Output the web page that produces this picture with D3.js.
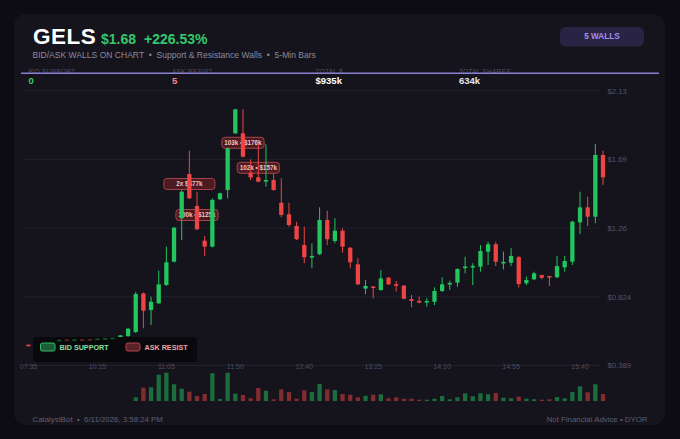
<!DOCTYPE html>
<html><head><meta charset="utf-8">
<script src="https://cdn.jsdelivr.net/npm/d3@7/dist/d3.min.js"></script>
<style>
html,body{margin:0;padding:0;background:#0d0c13;}
svg{display:block;font-family:"Liberation Sans",Arial,Helvetica,sans-serif;}
</style>
</head><body>
<svg id="chart" width="680" height="439"></svg>
<script>
// ---------- DATA ----------
const ticker = "GELS";
const lastPrice = "$1.68";
const changePct = "+226.53%";
const subtitle = "BID/ASK WALLS ON CHART  \u2022  Support & Resistance Walls  \u2022  5-Min Bars";
const statLabels = ["BID SUPPORT", "ASK RESIST", "TOTAL $", "TOTAL SHARES"];
const statValues = ["0", "5", "$935k", "634k"];
const wallsBadge = "5 WALLS";
const footerLeft = "CatalystBot  \u2022  6/11/2026, 3:58:24 PM";
const footerRight = "Not Financial Advice \u2022 DYOR";

const barIndex = d3.range(76);
const opens = [0.519,null,null,null,0.545,0.551,0.547,0.552,0.553,0.553,
  0.555,0.558,0.570,0.576,0.601,0.846,0.741,0.783,0.899,1.047,
  1.322,1.602,1.400,1.180,1.142,1.442,1.501,1.860,1.860,1.611,
  1.581,1.554,1.564,1.420,1.347,1.273,1.152,1.075,1.094,1.311,
  1.178,1.243,1.135,1.030,0.876,0.888,0.867,0.945,0.902,0.895,
  0.810,0.796,0.790,0.793,0.861,0.904,0.914,1.008,1.012,1.015,
  1.110,1.157,1.037,1.040,1.075,0.910,0.935,0.962,0.954,0.948,
  1.011,1.047,1.296,1.391,1.332,1.723];
const highs = [0.519,null,null,null,0.550,0.552,0.552,0.553,0.554,0.558,
  0.560,0.563,0.582,0.627,0.855,0.851,0.825,0.990,1.142,1.268,
  1.501,1.750,1.490,1.209,1.448,1.484,1.769,2.015,2.012,1.695,
  1.797,1.790,1.602,1.575,1.420,1.300,1.268,1.163,1.391,1.370,
  1.322,1.258,1.140,1.068,0.931,0.893,0.994,0.950,0.924,0.899,
  0.836,0.825,0.815,0.884,0.948,0.926,1.005,1.078,1.037,1.152,
  1.173,1.173,1.110,1.132,1.083,0.952,0.983,0.964,0.958,1.083,
  1.083,1.306,1.490,1.458,1.792,1.750];
const lows = [0.512,null,null,null,0.544,0.546,0.546,0.547,0.548,0.552,
  0.554,0.557,0.569,0.570,0.595,0.625,0.646,0.779,0.893,1.043,
  1.184,1.444,1.247,1.083,1.137,1.438,1.448,1.856,1.708,1.564,
  1.550,1.522,1.496,1.328,1.268,1.184,1.037,1.005,1.089,1.152,
  1.163,1.104,1.005,0.899,0.840,0.815,0.863,0.899,0.857,0.810,
  0.758,0.783,0.762,0.772,0.855,0.867,0.888,0.973,0.899,0.983,
  1.026,1.019,0.998,1.019,0.884,0.899,0.931,0.935,0.893,0.943,
  0.983,1.026,1.222,1.273,1.290,1.533];
const closes = [0.513,null,null,null,0.549,0.547,0.551,0.548,0.549,0.557,
  0.559,0.562,0.580,0.622,0.842,0.736,0.793,0.903,1.043,1.262,
  1.490,1.448,1.252,1.142,1.438,1.480,1.765,2.012,1.712,1.581,
  1.554,1.564,1.501,1.343,1.279,1.189,1.075,1.081,1.311,1.189,
  1.243,1.142,1.043,0.903,0.893,0.881,0.941,0.903,0.896,0.812,
  0.798,0.790,0.796,0.861,0.903,0.910,1.000,1.014,1.018,1.114,
  1.157,1.047,1.044,1.083,0.905,0.931,0.973,0.945,0.948,1.019,
  1.051,1.300,1.391,1.332,1.723,1.581];
// volume, thousands of shares
const volumes = [0,null,null,null,0,0,0,0,0,0,
  0,0,0,0,37,133,137,263,283,167,
  123,93,50,70,277,20,283,73,60,27,
  130,103,17,117,90,23,107,90,170,117,
  110,70,63,37,52,63,67,27,37,23,
  23,13,13,23,50,17,37,77,47,77,
  67,80,33,27,43,23,17,13,17,40,
  27,90,147,87,167,70];

const timeTickLabels = ["07:35","10:15","11:05","11:50","12:40","13:25","14:10","14:55","15:40"];
const timeTickBars = [0,9,18,27,36,45,54,63,72];
const priceDomain = [0.389, 2.13];
const priceTickLabels = ["$0.389","$0.824","$1.26","$1.69","$2.13"];

const wallLabels = ["2x $477k","100k \u2022 $125k","103k \u2022 $176k","102k \u2022 $157k"];
const wallBars = [21, 22, 28, 30];
const wallPrices = [1.539, 1.3425, 1.800, 1.6415];
const wallCounts = [2, 1, 1, 1];

// ---------- STYLE ----------
const UP = "#22c55e", DOWN = "#ef4444";
const svg = d3.select("#chart");

svg.append("rect").attr("x",0).attr("y",0).attr("width",680).attr("height",439).attr("fill","#0d0c13");
svg.append("rect").attr("x",14).attr("y",14).attr("width",651).attr("height",411).attr("rx",12)
  .attr("fill","#15141d");

// header
svg.append("text").attr("x",33).attr("y",43.5).text(ticker)
  .attr("fill","#ffffff").attr("font-size",22.5).attr("font-weight",800).attr("letter-spacing",0.5);
svg.append("text").attr("x",101).attr("y",43.5).text(lastPrice)
  .attr("fill","#34c76b").attr("font-size",14).attr("font-weight",700);
svg.append("text").attr("x",144).attr("y",43.5).text(changePct)
  .attr("fill","#34c76b").attr("font-size",14).attr("font-weight",700);
svg.append("text").attr("x",32.5).attr("y",57.8).text(subtitle)
  .style("white-space","pre")
  .attr("fill","#8a899a").attr("font-size",8.55);

// badge
svg.append("rect").attr("x",560).attr("y",27).attr("width",84).attr("height",19.5).attr("rx",6)
  .attr("fill","#2a2444");
svg.append("text").attr("x",602).attr("y",36.8).text(wallsBadge).attr("text-anchor","middle")
  .attr("dominant-baseline","central").attr("fill","#a18ef2").attr("font-size",8.2).attr("font-weight",700);

// stats
const statX = [28.5, 172, 315.5, 459];
const statColors = ["#3cc96e","#f08a8a","#ffffff","#e6e6ee"];
statLabels.forEach((l,i)=>{
  svg.append("text").attr("x",statX[i]).attr("y",73.5).text(l)
    .attr("fill","#4d4c5c").attr("font-size",6.6).attr("letter-spacing",0.2);
  svg.append("text").attr("x",statX[i]).attr("y",83.5).text(statValues[i])
    .attr("fill",statColors[i]).attr("font-size",9.5).attr("font-weight",700);
});
svg.append("line").attr("x1",21).attr("x2",659).attr("y1",73.3).attr("y2",73.3)
  .attr("stroke","#8b80d6").attr("stroke-width",1.5);

// scales
const x = d3.scaleBand().domain(barIndex).range([24.67, 606.83]).paddingInner(0.44).paddingOuter(0.22);
const y = d3.scaleLinear().domain(priceDomain).range([365.5, 90.7]);
const yv = d3.scaleLinear().domain([0, d3.max(volumes)]).range([401, 372.7]);
const cx = i => x(i) + x.bandwidth()/2;
const priceTickValues = priceTickLabels.map((_,i)=> priceDomain[0] + i*(priceDomain[1]-priceDomain[0])/(priceTickLabels.length-1));

// grid
svg.append("g").selectAll("line").data(priceTickValues).join("line")
  .attr("x1",23).attr("x2",600).attr("y1",d=>y(d)).attr("y2",d=>y(d))
  .attr("stroke","#22212c").attr("stroke-width",1);

// price axis
const pa = svg.append("g").attr("transform","translate(604,0)")
  .call(d3.axisRight(y).tickValues(priceTickValues).tickFormat((d,i)=>priceTickLabels[i]).tickSize(0).tickPadding(3.5));
pa.select(".domain").remove();
pa.selectAll("text").attr("fill","#545366").attr("font-size",7.7).attr("font-family","Liberation Sans, Arial, sans-serif");

// time axis
const ta = svg.append("g").attr("transform","translate(0,365)")
  .call(d3.axisBottom(x).tickValues(timeTickBars).tickFormat((d,i)=>timeTickLabels[i]).tickSize(0).tickPadding(0));
ta.select(".domain").remove();
ta.selectAll("text").attr("fill","#4c4b5a").attr("font-size",7).attr("dy","0.55em").attr("font-family","Liberation Sans, Arial, sans-serif");

// wall labels (under candles)
const wg = svg.append("g");
wallLabels.forEach((t,i)=>{
  const g = wg.append("g");
  const txt = g.append("text").attr("x",cx(wallBars[i])).attr("y",y(wallPrices[i])).text(t)
    .attr("text-anchor","middle").attr("dominant-baseline","central")
    .attr("fill","#f1c3c5").attr("font-size",6.3).attr("font-weight",700);
  const w = Math.max(txt.node().getComputedTextLength() + 5, wallCounts[i] > 1 ? 51 : 0);
  g.insert("rect","text").attr("x",cx(wallBars[i]) - w/2).attr("y",y(wallPrices[i]) - 5.5)
    .attr("width",w).attr("height",11).attr("rx",3)
    .attr("fill","rgba(105,30,36,0.65)").attr("stroke","#a8434b").attr("stroke-width",1);
});

// candles
const bars = barIndex.filter(i => opens[i] != null);
const cg = svg.append("g");
cg.selectAll("line").data(bars).join("line")
  .attr("x1",cx).attr("x2",cx).attr("y1",i=>y(highs[i])).attr("y2",i=>y(lows[i]))
  .attr("stroke",i=> closes[i] >= opens[i] ? UP : DOWN).attr("stroke-width",1);
cg.selectAll("rect").data(bars).join("rect")
  .attr("x",i=>x(i)).attr("width",x.bandwidth())
  .attr("y",i=>{ const t=y(Math.max(opens[i],closes[i])), b=y(Math.min(opens[i],closes[i])); return b-t<1.6 ? (t+b)/2-0.8 : t; })
  .attr("height",i=>Math.max(1.6, Math.abs(y(opens[i])-y(closes[i]))))
  .attr("fill",i=> closes[i] >= opens[i] ? UP : DOWN);

// volume
svg.append("g").selectAll("rect").data(bars.filter(i=>volumes[i]>0)).join("rect")
  .attr("x",i=>x(i)).attr("width",x.bandwidth())
  .attr("y",i=>yv(volumes[i])).attr("height",i=>yv(0)-yv(volumes[i]))
  .attr("fill",i=> closes[i] >= opens[i] ? UP : DOWN).attr("opacity",0.5);

// legend
const lg = svg.append("g");
lg.append("rect").attr("x",33).attr("y",337).attr("width",164).attr("height",25).attr("rx",4)
  .attr("fill","rgba(0,0,0,0.55)");
lg.append("rect").attr("x",40.5).attr("y",343).attr("width",14.5).attr("height",8).attr("rx",2)
  .attr("fill","#1d5c36").attr("stroke","#2fbf63").attr("stroke-width",1);
lg.append("text").attr("x",59.5).attr("y",347.2).text("BID SUPPORT").attr("dominant-baseline","central")
  .attr("fill","#86e0a6").attr("font-size",7.2).attr("font-weight",700);
lg.append("rect").attr("x",126).attr("y",343).attr("width",14).attr("height",8).attr("rx",2)
  .attr("fill","#5c2228").attr("stroke","#b0444c").attr("stroke-width",1);
lg.append("text").attr("x",144.5).attr("y",347.2).text("ASK RESIST").attr("dominant-baseline","central")
  .attr("fill","#e8a5a8").attr("font-size",7.2).attr("font-weight",700);

// footer
svg.append("text").attr("x",32.5).attr("y",419.5).text(footerLeft).attr("dominant-baseline","central")
  .style("white-space","pre").attr("fill","#5f5e70").attr("font-size",7.85);
svg.append("text").attr("x",647.5).attr("y",419.5).text(footerRight).attr("dominant-baseline","central")
  .attr("text-anchor","end").attr("fill","#5f5e70").attr("font-size",7.85);
</script>
</body></html>
